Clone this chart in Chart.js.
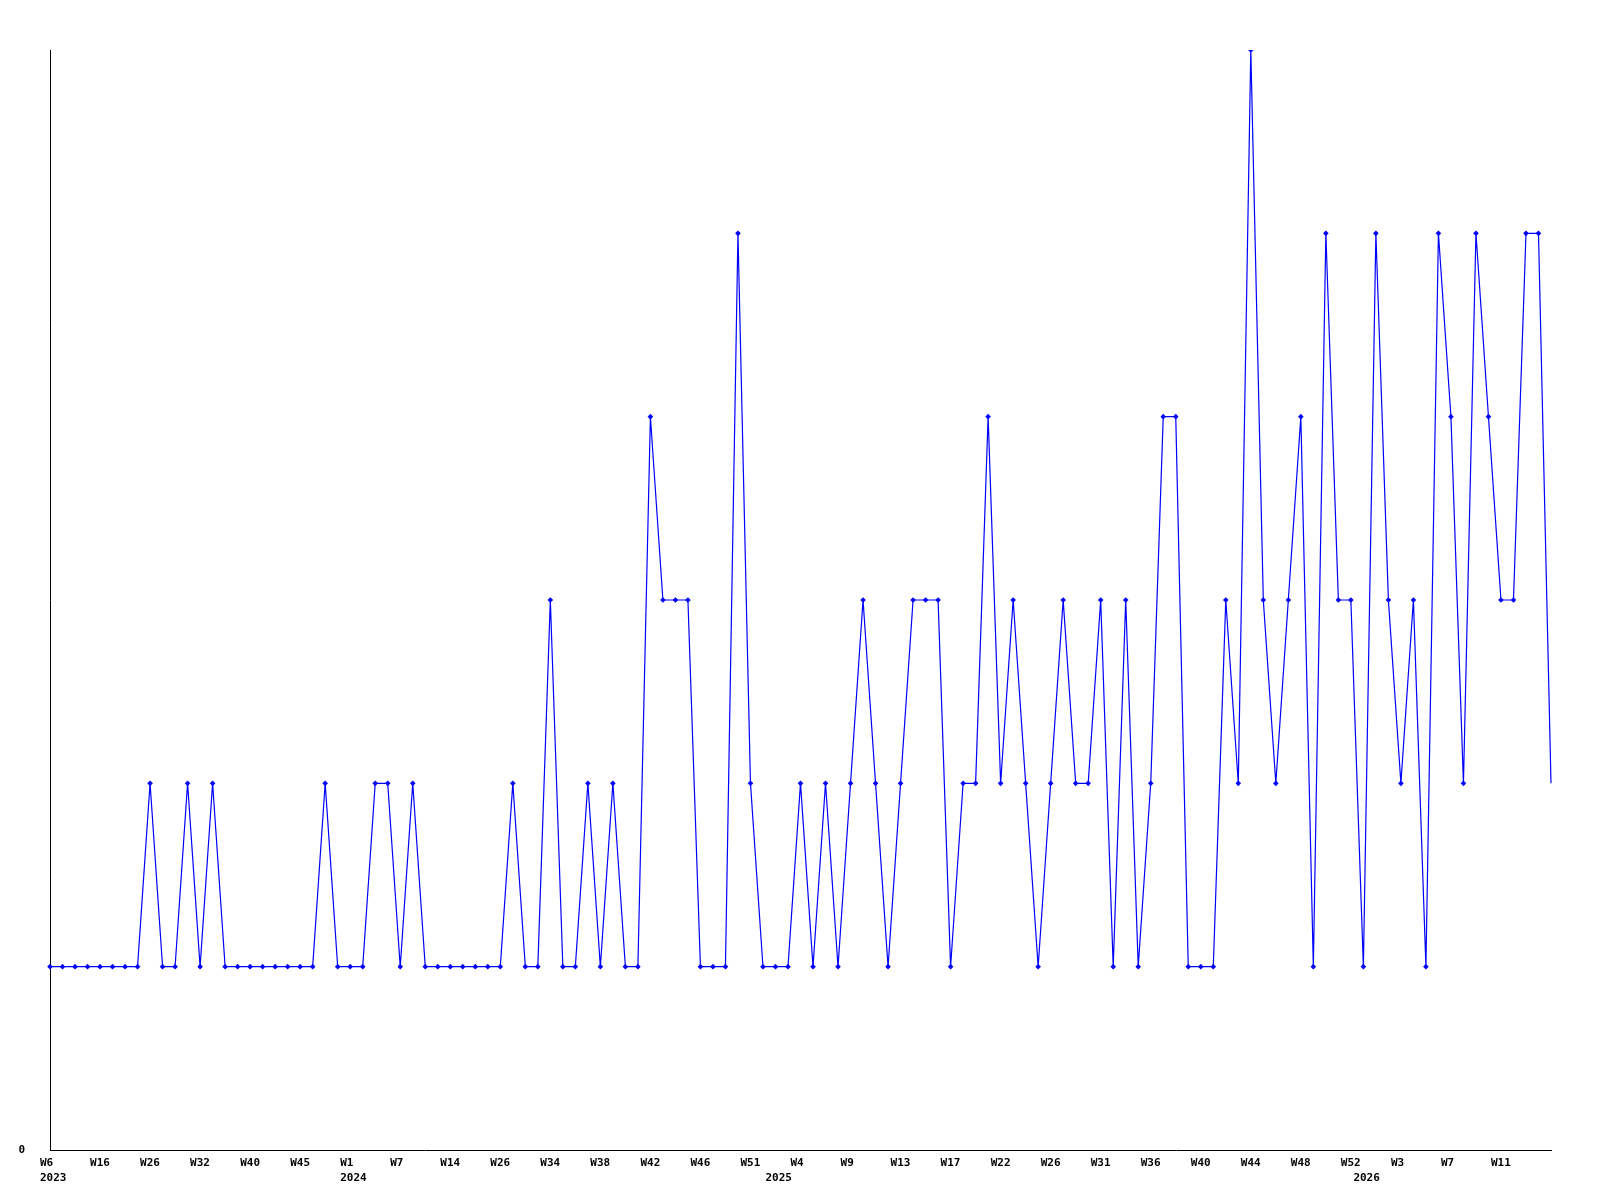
<!DOCTYPE html>
<html>
<head>
<meta charset="utf-8">
<script src="https://cdn.jsdelivr.net/npm/chart.js@4/dist/chart.umd.min.js"></script>
<style>
    body { margin: 0; background: #ffffff; }
    #weekChart { display: block; }
</style>
</head>
<body>
<canvas id="weekChart" width="1600" height="1200"></canvas>
<script>
// Weekly counts, one per week that has data
const counts = [
    1, 1, 1, 1, 1, 1, 1, 1, 2, 1, 1, 2, 1, 2, 1, 1, 1, 1, 1, 1,
    1, 1, 2, 1, 1, 1, 2, 2, 1, 2, 1, 1, 1, 1, 1, 1, 1, 2, 1, 1,
    3, 1, 1, 2, 1, 2, 1, 1, 4, 3, 3, 3, 1, 1, 1, 5, 2, 1, 1, 1,
    2, 1, 2, 1, 2, 3, 2, 1, 2, 3, 3, 3, 1, 2, 2, 4, 2, 3, 2, 1,
    2, 3, 2, 2, 3, 1, 3, 1, 2, 4, 4, 1, 1, 1, 3, 2, 6, 3, 2, 3,
    4, 1, 5, 3, 3, 1, 5, 3, 2, 3, 1, 5, 4, 2, 5, 4, 3, 3, 5, 5,
    2
];

// Week labels, shown on every 4th week
const weekLabels = [
    'W6', 'W16', 'W26', 'W32', 'W40', 'W45', 'W1', 'W7', 'W14', 'W26',
    'W34', 'W38', 'W42', 'W46', 'W51', 'W4', 'W9', 'W13', 'W17', 'W22',
    'W26', 'W31', 'W36', 'W40', 'W44', 'W48', 'W52', 'W3', 'W7', 'W11'
];
const labelEvery = 4;

// Years and the week index where each one starts
const years = ['2023', '2024', '2025', '2026'];
const yearStarts = [0, 24, 58, 105];

const categories = counts.map((c, i) => i);

function tickLabel(i) {
    const week = (i % labelEvery === 0 && weekLabels[i / labelEvery]) ? weekLabels[i / labelEvery] : '';
    const y = yearStarts.indexOf(i);
    if (y >= 0) return [week, years[y]];
    return week;
}

const tickFont = { family: 'DejaVu Sans Mono', size: 11, weight: 'bold', lineHeight: 1.4 };

const ctx = document.getElementById('weekChart').getContext('2d');
const weekChart = new Chart(ctx, {
    type: 'line',
    data: {
        labels: categories,
        datasets: [{
            data: counts,
            borderColor: '#0000ff',
            backgroundColor: '#0000ff',
            borderWidth: 1.2,
            tension: 0,
            pointStyle: 'rectRot',
            pointRadius: (c) => c.dataIndex === counts.length - 1 ? 0 : 2.8,
            pointBorderWidth: 0,
            pointBackgroundColor: '#0000ff'
        }]
    },
    options: {
        responsive: false,
        animation: false,
        layout: { padding: { top: 50, right: 49, left: 0, bottom: 0 } },
        plugins: {
            legend: { display: false },
            tooltip: { enabled: false }
        },
        scales: {
            x: {
                type: 'category',
                offset: false,
                grid: { display: false, drawTicks: false },
                border: { display: true, color: '#000000', width: 1 },
                ticks: {
                    autoSkip: false,
                    maxRotation: 0,
                    minRotation: 0,
                    align: 'start',
                    labelOffset: -10,
                    padding: 5,
                    color: '#000000',
                    font: tickFont,
                    callback: (value, index) => tickLabel(index)
                },
                afterFit: (scale) => { scale.height = 50; }
            },
            y: {
                min: 0,
                max: 6,
                grid: { display: false, drawTicks: false },
                border: { display: true, color: '#000000', width: 1 },
                ticks: {
                    stepSize: 1,
                    padding: 25,
                    color: '#000000',
                    font: tickFont,
                    callback: (value) => value === 0 ? '0' : ''
                },
                afterFit: (scale) => { scale.width = 50; }
            }
        }
    }
});
</script>
</body>
</html>
